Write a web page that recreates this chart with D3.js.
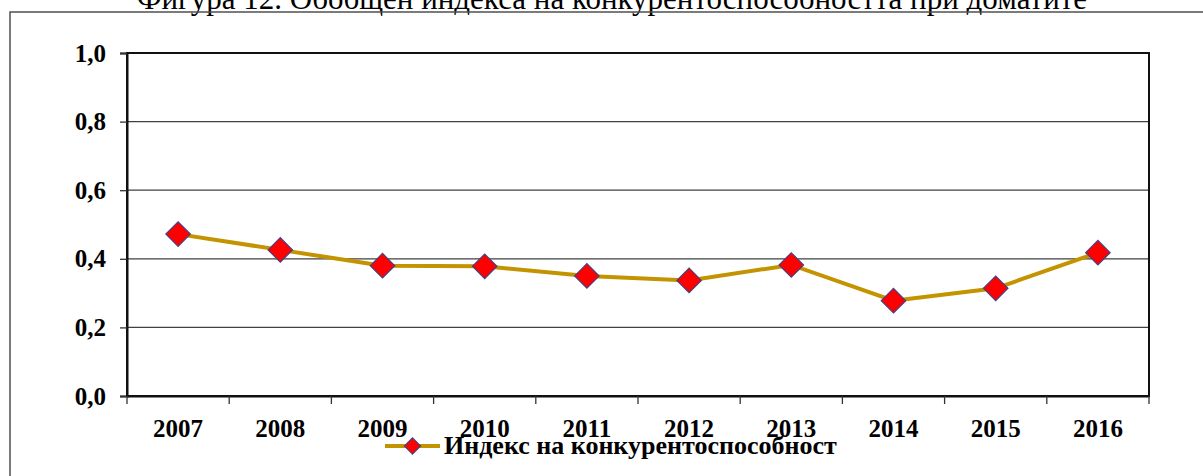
<!DOCTYPE html>
<html>
<head>
<meta charset="utf-8">
<script src="https://cdn.jsdelivr.net/npm/d3@7"></script>
<style>
  body { margin: 0; background: #fff; }
  svg { display: block; }
  text { font-family: "Liberation Serif", "Times New Roman", serif; }
</style>
</head>
<body>
<svg id="chart" width="1203" height="476"></svg>
<script>
// values
const years = ['2007', '2008', '2009', '2010', '2011', '2012', '2013', '2014', '2015', '2016'];
const index = [0.472, 0.426, 0.380, 0.378, 0.350, 0.337, 0.382, 0.278, 0.314, 0.418];
const yTicks = [0, 0.2, 0.4, 0.6, 0.8, 1.0];
const seriesName = 'Индекс на конкурентоспособност';
const title = 'Фигура 12. Обобщен индекса на конкурентоспособността при доматите';

const svg = d3.select('#chart');
const plot = { left: 127, right: 1149, top: 53, bottom: 396 };

// title (cut at top like the scan)
svg.append('text')
  .attr('x', 612).attr('y', 9)
  .attr('text-anchor', 'middle')
  .style('font-size', '31px')
  .text(title);

// outer frame
svg.append('rect')
  .attr('x', 10).attr('y', 12)
  .attr('width', 1210).attr('height', 500)
  .attr('fill', 'none').attr('stroke', '#505050').attr('stroke-width', 1.5);

const x = d3.scaleBand().domain(years).range([plot.left, plot.right]);
const y = d3.scaleLinear().domain([0, 1]).range([plot.bottom, plot.top]);

// gridlines
svg.append('g').selectAll('line')
  .data(yTicks)
  .enter().append('line')
  .attr('x1', plot.left).attr('x2', plot.right)
  .attr('y1', d => y(d)).attr('y2', d => y(d))
  .attr('stroke', '#404040').attr('stroke-width', 1.3);

// plot border
svg.append('rect')
  .attr('x', plot.left).attr('y', plot.top)
  .attr('width', plot.right - plot.left).attr('height', plot.bottom - plot.top)
  .attr('fill', 'none').attr('stroke', '#111').attr('stroke-width', 2);

// y axis
const yAxis = svg.append('g')
  .attr('transform', `translate(${plot.left},0)`)
  .call(d3.axisLeft(y).tickValues(yTicks).tickSize(7).tickPadding(14)
    .tickFormat(d => d3.format('.1f')(d).replace('.', ',')));
yAxis.select('.domain').attr('stroke', '#111').attr('stroke-width', 2);
yAxis.selectAll('.tick line').attr('stroke', '#333').attr('stroke-width', 1.3);
yAxis.selectAll('text')
  .attr('font-family', null)
  .style('font-size', '25px').style('font-weight', 'bold').attr('fill', '#000');

// x axis: ticks at band boundaries
const xAxis = svg.append('g')
  .attr('transform', `translate(0,${plot.bottom})`)
  .call(d3.axisBottom(x).tickSize(0).tickPadding(23));
xAxis.select('.domain').attr('stroke', '#111').attr('stroke-width', 2);
xAxis.selectAll('text')
  .style('font-size', '25px').style('font-weight', 'bold').attr('fill', '#000');
const bounds = years.map(d => x(d)).concat([x(years[years.length - 1]) + x.bandwidth()]);
xAxis.selectAll('line.sep')
  .data(bounds)
  .enter().append('line')
  .attr('class', 'sep')
  .attr('x1', d => d).attr('x2', d => d)
  .attr('y1', 0).attr('y2', 8)
  .attr('stroke', '#333').attr('stroke-width', 1.3);

// series line
const cx = d => x(d) + x.bandwidth() / 2;
const line = d3.line()
  .x((d, i) => cx(years[i]))
  .y(d => y(d));
svg.append('path')
  .datum(index)
  .attr('d', line)
  .attr('fill', 'none')
  .attr('stroke', '#C39400')
  .attr('stroke-width', 4);

const diamond = d3.symbol().type(d3.symbolSquare).size(300);
svg.append('g').selectAll('path')
  .data(index)
  .enter().append('path')
  .attr('d', diamond)
  .attr('transform', (d, i) => `translate(${cx(years[i])},${y(d)}) rotate(45)`)
  .attr('fill', '#FF0000')
  .attr('stroke', '#4B3F7F')
  .attr('stroke-width', 1.2);

// legend
const lg = svg.append('g').attr('transform', 'translate(385,446)');
lg.append('line').attr('x1', 0).attr('x2', 55).attr('y1', 0).attr('y2', 0)
  .attr('stroke', '#C39400').attr('stroke-width', 4);
lg.append('path').attr('d', d3.symbol().type(d3.symbolSquare).size(130))
  .attr('transform', 'translate(27.5,0) rotate(45)')
  .attr('fill', '#FF0000').attr('stroke', '#4B3F7F').attr('stroke-width', 1.2);
lg.append('text').attr('x', 59).attr('y', 8)
  .style('font-size', '26px').style('font-weight', 'bold')
  .text(seriesName);
</script>
</body>
</html>
